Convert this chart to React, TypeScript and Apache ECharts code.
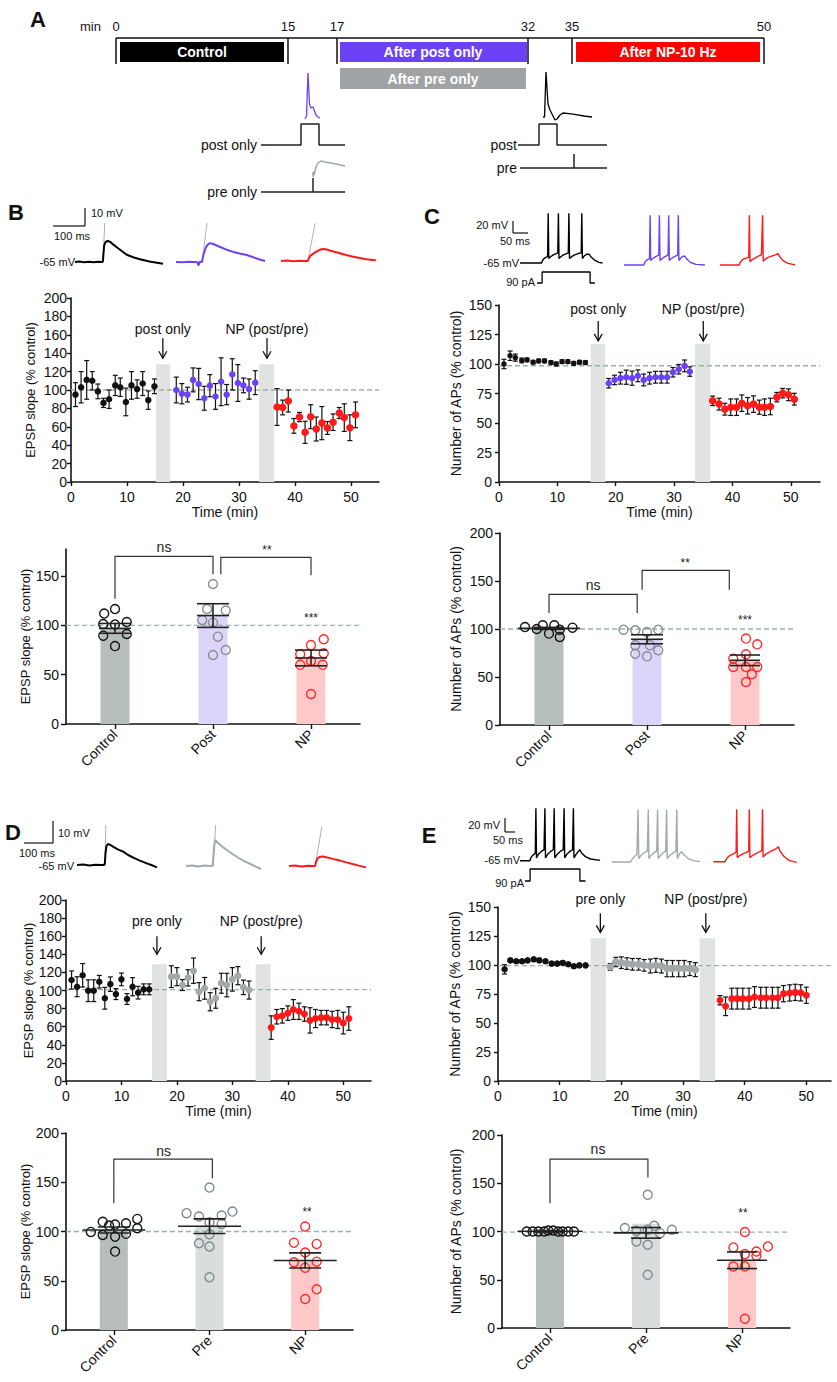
import React, { useEffect, useRef } from "react";
import * as echarts from "echarts";

const FONT = '"Liberation Sans", Arial, Helvetica, sans-serif';
const NARROW = '"Liberation Sans Narrow", "Arial Narrow", "Liberation Sans", Arial, sans-serif';
const INK = "#111111";
const PURPLE = "#6b42f5";
const RED = "#ff1a1a";
const GRAYPT = "#a3a8aa";
const SHADE = "#e1e3e3";
const DASH = "#9cb0b0";
const ARTIFACT = "#a9b3b5";

// ---------------- Panel A (protocol schematic) ----------------
const aTimeLabels = ["0", "15", "17", "32", "35", "50"];
const aPhaseLabels = ["Control", "After post only", "After pre only", "After NP-10 Hz"];
const aStimLabels = ["post only", "pre only", "post", "pre"];
const aPostOnlyCmd = [[0, 0], [40, 0], [40, 1], [58, 1], [58, 0], [84, 0]];
const aPurpleSpike = [[0, 0], [1.5, 3], [3, 46], [4.5, 15], [6, 11], [8, 12], [9.5, 8], [11, 4], [13, 2], [15, 1]];
const aPreOnlyCmd = [[0, 0], [52, 0], [52, 1], [52, 0], [84, 0]];
const aGrayEpsp = [[0, 0], [0, 5], [1, 2], [3, 10], [5, 14], [8, 16], [12, 15], [18, 14], [25, 12.5], [32, 11]];
const aPostCmd = [[0, 0], [21, 0], [21, 1], [39, 1], [39, 0], [89, 0]];
const aBlackSpike = [[0, 3], [1.5, 3], [3, 48], [5, 16], [7, 10], [9, 6], [12, 0], [14, 1], [17, 5], [20, 7], [26, 6.3], [33, 5.3], [41, 4], [49, 3]];
const aPreCmd = [[0, 0], [54, 0], [54, 1], [54, 0], [87, 0]];

// ---------------- Example traces (ms, mV) ----------------
const bTraceBlack = [[0, 0], [15, 0.3], [30, -0.2], [45, 0.2], [60, -0.1], [75, 0.2], [88, 0], [90, 0.3], [92, 5], [94, 9], [97, 10.6], [101, 11.4], [106, 11.7], [115, 11], [125, 9.5], [140, 7.5], [167, 4], [190, 2.5], [210, 1.5], [240, 0.3], [284, -1]];
const bTracePurple = [[0, 0], [20, -0.2], [40, 0.2], [60, 0], [70, -0.2], [72, -2], [76, 0], [84, 0], [86, 2], [90, 5], [96, 8], [103, 9.8], [110, 10.5], [120, 10], [135, 8.9], [150, 7.8], [165, 6.7], [185, 5.6], [205, 4.7], [228, 3.9], [250, 2.6], [270, 1.4], [287, 0.6]];
const bTraceRed = [[0, 0], [20, 0.3], [40, -0.2], [60, 0.2], [80, 0], [86, 0], [90, 1.5], [95, 3], [102, 3.8], [110, 4.8], [120, 5.8], [128, 6.4], [135, 6.7], [145, 6.5], [160, 5.7], [175, 5], [190, 4.3], [210, 3.3], [230, 2.5], [250, 1.8], [275, 1], [306, 0.4]];
const bArtBlack = [[90, 0], [96, 21.7]];
const bArtPurple = [[84, 0], [100, 21.7]];
const bArtRed = [[87, 0], [110, 21]];

const dTraceBlack = [[0, 0], [20, 0.2], [40, -0.2], [60, 0.1], [80, 0], [88, 0], [90, 1], [92, 6], [95, 9.5], [100, 10.5], [108, 10], [120, 8.8], [135, 7.6], [149, 6.7], [165, 5], [185, 3.4], [203, 2.2], [225, 0.8], [240, 0], [258, -1.2]];
const dTraceGray = [[0, 0], [20, 0.2], [40, -0.2], [60, 0.2], [80, 0], [86, 0], [88, 4], [91, 10], [94, 13], [100, 12], [110, 10.6], [120, 9.3], [132, 8], [150, 6], [170, 4], [185, 2.7], [205, 1.2], [225, -0.3], [242, -1.5]];
const dTraceRed = [[0, 0], [20, 0.2], [40, -0.2], [60, 0.1], [78, 0], [84, 0], [88, 2.5], [93, 4], [100, 4.6], [110, 4.7], [120, 4.4], [135, 3.8], [150, 3.2], [165, 2.7], [185, 1.8], [205, 1], [225, 0.2], [248, -0.7]];
const dArtBlack = [[90, 0], [93, 20]];
const dArtGray = [[87, 0], [96, 20.5]];
const dArtRed = [[84, 0], [106, 19.5]];

const cTraceBlack = [[0, -65], [72, -65], [75, -61], [80, -58], [86, -56], [92, -55], [94, 14], [96, -58], [102, -55], [111, -52], [121, -50], [126, -49], [128, 14], [130, -58], [136, -55], [145, -52], [155, -50], [161, -49], [163, 14], [165, -58], [172, -55], [182, -52], [194, -50], [204, -49], [206, 14], [208, -58], [214, -54], [222, -51], [230, -51], [238, -56], [250, -61], [263, -64], [275, -65]];
const cTracePurple = [[0, -65], [66, -65], [69, -61], [74, -58], [80, -56], [85, -55], [87, 14], [89, -58], [95, -55], [104, -52], [112, -50], [116, -49], [118, 14], [120, -58], [126, -55], [135, -52], [143, -50], [147, -49], [149, 14], [151, -58], [157, -55], [166, -52], [175, -50], [179, -49], [181, 14], [183, -58], [189, -54], [196, -51], [203, -51], [210, -56], [222, -61], [240, -64], [270, -65]];
const cTraceRed = [[0, -65], [64, -65], [67, -61], [72, -58], [80, -55], [88, -54], [96, -53], [98, 14], [100, -60], [106, -57], [116, -54], [128, -51], [138, -49], [142, 14], [144, -59], [150, -56], [160, -53], [172, -51], [184, -49], [194, -47], [199, -52], [210, -58], [225, -62], [250, -65]];
const cCurrent = [[0, 0], [17, 0], [17, 90], [177, 90], [177, 0], [193, 0]];

const eTraceBlack = [[0, -65], [33, -65], [37, -60], [45, -56], [51, -54], [53, 12], [55, -61], [62, -55], [72, -51], [80, -49], [83, 12], [85, -61], [93, -55], [103, -51], [111, -49], [114, 12], [116, -61], [125, -55], [135, -51], [144, -49], [147, 12], [149, -61], [157, -55], [167, -51], [175, -49], [178, 12], [180, -61], [188, -55], [197, -50], [200, -49], [206, -54], [218, -59], [235, -62.5], [267, -64.5]];
const eTraceGray = [[0, -65], [63, -65], [68, -61], [76, -57], [84, -54], [88, 12], [90, -60], [98, -55], [110, -51], [119, -49], [122, 12], [124, -60], [132, -55], [142, -51], [150, -49], [153, 12], [155, -60], [163, -55], [173, -51], [180, -49], [183, 12], [185, -60], [195, -55], [207, -51], [214, -49], [217, 12], [219, -60], [226, -53], [233, -50], [240, -54], [255, -60], [272, -63], [294, -64.5]];
const eTraceRed = [[0, -65], [39, -65], [45, -60], [55, -56], [68, -53], [76, -51], [78, 12], [80, -59], [88, -56], [100, -53], [112, -51], [118, -49], [120, 12], [122, -59], [130, -56], [142, -53], [155, -50], [162, -49], [164, 12], [166, -58], [175, -54], [190, -50], [205, -47], [215, -44], [217, -43], [222, -49], [235, -57], [252, -63], [278, -66]];
const eCurrent = [[0, 0], [17, 0], [17, 90], [183, 90], [183, 0], [202, 0]];

// ---------------- Time courses ----------------
const timeTicks = [0, 10, 20, 30, 40, 50];

const bCtrlT = [0.8, 1.8, 2.8, 3.8, 4.8, 5.8, 6.8, 7.9, 8.8, 9.8, 10.8, 11.8, 12.8, 13.8, 14.9];
const bCtrlV = [95, 103, 111, 110, 98.5, 86, 90, 105, 103, 87, 105, 101, 107, 89, 104];
const bCtrlE = [13, 17, 21, 10, 8, 5, 10, 11, 10, 15, 15, 10, 13, 10, 8];
const bPostT = [18.8, 19.8, 20.8, 21.8, 22.8, 23.8, 24.8, 25.8, 26.8, 27.8, 28.8, 29.8, 30.8, 31.8, 32.9];
const bPostV = [100, 96, 95, 111, 106.5, 91, 104.7, 93, 109, 95, 117, 107.6, 105, 101, 108];
const bPostE = [14, 11, 8, 13, 17, 13, 12, 14, 26, 11, 17, 20, 8, 11, 13];
const bNpT = [36.8, 37.8, 38.8, 39.8, 40.8, 41.8, 42.8, 43.8, 44.8, 45.8, 46.8, 47.9, 48.8, 49.8, 50.8];
const bNpV = [81.5, 81, 88, 61, 70.6, 54, 71, 57.6, 64, 58.7, 65, 75, 70, 59, 73];
const bNpE = [20, 8, 12, 8, 5, 12, 13, 13, 18, 7, 9, 6, 15, 14, 14];

const cCtrlT = [0.85, 1.9, 2.8, 3.9, 4.8, 5.85, 6.8, 7.8, 8.9, 9.8, 10.8, 11.8, 12.8, 13.8, 14.8];
const cCtrlV = [100, 107, 105.4, 103, 103.5, 101.5, 102.6, 102.6, 101.2, 100, 102, 102, 100.6, 101.5, 101.2];
const cCtrlE = [4, 4, 3, 2, 1.5, 1.5, 1.5, 1.5, 1.5, 1.5, 1.5, 1.5, 1.5, 1.5, 1.5];
const cPostT = [18.8, 19.8, 20.8, 21.8, 22.8, 23.8, 24.8, 25.8, 26.8, 27.8, 28.8, 29.8, 30.8, 31.8, 32.7];
const cPostV = [83.7, 86.5, 88, 88.8, 88, 90, 86.5, 88, 88.8, 88.8, 88.8, 93, 95.6, 98.4, 93.6];
const cPostE = [4, 4, 5, 6, 6, 5, 5, 5, 5, 5, 5, 4, 4, 5, 4];
const cNpT = [36.6, 37.7, 38.7, 39.7, 40.7, 41.6, 42.6, 43.6, 44.6, 45.5, 46.5, 47.6, 48.6, 49.6, 50.6];
const cNpV = [68.8, 66, 61.7, 63.4, 63.4, 66.8, 64.6, 66, 63.4, 63.4, 64, 71.9, 75.3, 73.9, 70.2];
const cNpE = [4, 5, 5, 7, 7, 7, 7, 7, 6, 7, 7, 4, 4, 5, 5];

const dCtrlT = [1, 2, 3, 4, 5, 6, 7, 8, 9, 10, 11, 12, 13, 14, 15];
const dCtrlV = [111.6, 104.2, 116.8, 99.8, 99.8, 109.7, 91.4, 107, 96, 112.3, 90.6, 104.2, 97.6, 101.3, 101.3];
const dCtrlE = [10, 11, 13, 12, 12, 7, 12, 8, 6, 7, 6, 10, 7, 6, 6];
const dPreT = [19, 20, 21, 22, 23, 24, 25, 26, 27, 28, 29, 30, 31, 32, 33];
const dPreV = [115.3, 115.3, 106, 114, 121.9, 98.7, 102.4, 87.6, 91.4, 108, 106, 112.3, 116.4, 103.5, 100.5];
const dPreE = [12, 10, 6, 9, 14, 10, 12, 10, 11, 11, 13, 13, 10, 8, 10];
const dNpT = [37, 38, 39, 40, 41, 42, 43, 44, 45, 46, 47, 48, 49, 50, 51];
const dNpV = [59, 71, 72, 75, 79, 77, 74, 67, 69, 70, 70, 68, 68, 64, 69];
const dNpE = [13, 8, 8, 8, 11, 9, 8, 14, 10, 8, 8, 9, 10, 12, 13];

const eCtrlT = [1.07, 2.0, 2.95, 3.9, 4.8, 5.8, 6.7, 7.7, 8.7, 9.6, 10.5, 11.4, 12.3, 13.2, 14.2];
const eCtrlV = [96.3, 104, 103.2, 103.2, 104, 104.9, 104, 103.2, 101.2, 101.2, 101.8, 100.6, 98.9, 99.7, 99.7];
const eCtrlE = [4, 1.5, 1.5, 1.5, 1.5, 1.5, 1.5, 1.5, 1.5, 1.5, 1.5, 1.5, 1.5, 1.5, 1.5];
const ePreT = [18.2, 19.1, 20.0, 20.9, 21.8, 22.8, 23.7, 24.7, 25.6, 26.5, 27.4, 28.3, 29.3, 30.2, 31.1, 32.0];
const ePreV = [98.3, 102.6, 102, 101.2, 100.6, 100.6, 99.7, 99.1, 99.7, 99.1, 96.9, 96.9, 96.9, 96.9, 96.9, 96];
const ePreE = [3, 4, 5, 5, 5, 5, 5, 6, 6, 6, 7, 7, 7, 7, 6, 6];
const eNpT = [36.0, 36.9, 37.9, 38.8, 39.7, 40.7, 41.6, 42.6, 43.5, 44.5, 45.4, 46.3, 47.3, 48.2, 49.1, 50.0];
const eNpV = [69.6, 64.4, 71, 71, 71, 71, 72.4, 71.8, 71.8, 71.8, 71.8, 75.3, 75.9, 76.4, 76, 73.9];
const eNpE = [4, 8, 9, 9, 9, 9, 9, 9, 9, 9, 9, 7, 7, 7, 7, 7];

// stimulation windows (min) and event labels
const bStim = [[15.2, 17.7], [33.6, 36.3]];
const cStim = [[15.7, 18.2], [33.6, 36.2]];
const dStim = [[15.5, 18.2], [34.2, 36.9]];
const eStim = [[15.0, 17.5], [32.7, 35.2]];
const bEventT = [16.4, 35.0];
const cEventT = [17.0, 35.0];
const dEventT = [16.4, 35.2];
const eEventT = [16.6, 33.7];
const bcEventLabels = ["post only", "NP (post/pre)"];
const deEventLabels = ["pre only", "NP (post/pre)"];

// ---------------- Summary bars ----------------
const catsPost = ["Control", "Post", "NP"];
const catsPre = ["Control", "Pre", "NP"];

const bBarMean = [97, 110, 67];
const bBarSem = [5, 12, 8];
const bDotsCtrl = [[-0.11, 112], [0, 116.6], [0.12, 103.4], [-0.12, 101.4], [0, 101], [-0.12, 89.6], [0.12, 91.3], [0, 79]];
const bDotsPost = [[0, 142], [-0.06, 116.6], [0.13, 115], [-0.11, 105.5], [0, 102.8], [0.05, 88.6], [0, 70], [0.13, 75]];
const bDotsNp = [[0.13, 85.9], [0, 80], [-0.11, 70.7], [0.13, 71.7], [0, 63.9], [-0.11, 60], [0.12, 60], [0, 30.4]];
const bBrackets = [[0, 1, 170, 127, 152], [1.08, 2, 169, 152, 151]];
const bSigText = ["ns", "**", "***"];
const bSigAt = [[0.5, 180], [1.55, 176.5], [2, 107.5]];

const cBarMean = [100.7, 89.3, 67.4];
const cBarSem = [1, 4.7, 5.5];
const cDotsCtrl = [[-0.245, 102], [-0.125, 100], [-0.064, 103.8], [0, 95.2], [0.054, 103.8], [0.11, 91.7], [0.11, 99.3], [0.24, 101.4]];
const cDotsPost = [[-0.24, 99.3], [-0.12, 98.6], [0, 96.9], [0.115, 99.3], [-0.12, 83], [0.03, 83], [-0.12, 74.3], [0.115, 77.8], [0, 71.5]];
const cDotsNp = [[0.01, 90], [0.125, 84], [-0.12, 69], [0.01, 73.6], [0.01, 60.4], [-0.12, 60.4], [0.125, 60.4], [0.07, 52.8], [0.01, 44.8]];
const cBrackets = [[0, 0.9, 136, 116.7, 116.7], [0.95, 1.84, 161, 141, 141]];
const cSigText = ["ns", "**", "***"];
const cSigAt = [[0.45, 146], [1.39, 168.7], [2, 109.8]];

const dBarMean = [101.5, 105.4, 70.6];
const dBarSem = [3, 7.4, 7.7];
const dDotsCtrl = [[-0.24, 99.6], [-0.116, 109.8], [-0.05, 106], [0.013, 107], [0.127, 108.4], [0.245, 112.8], [0.245, 103.3], [-0.116, 96.5], [0.013, 94.8], [0.127, 97.6], [0.013, 79.6]];
const dDotsPre = [[0, 144.6], [-0.24, 118.6], [-0.11, 115.2], [0.127, 116.2], [0.24, 120.2], [0, 109.4], [0.127, 107.7], [-0.11, 88.1], [0, 97.2], [0, 84.7], [0, 53.5]];
const dDotsNp = [[0, 105], [-0.117, 88.7], [0.12, 87.4], [0, 78.6], [-0.117, 68.8], [0.12, 69.4], [0, 63.3], [0.12, 41.3], [0, 31.5]];
const dBrackets = [[0, 1.03, 173.5, 128.8, 154]];
const dSigText = ["ns", "**"];
const dSigAt = [[0.52, 182], [2.02, 119.6]];

const eBarVal = [100, 108, 70];
const eBarMean = [100.2, 98.6, 70.2];
const eBarSem = [0.8, 5.5, 8.6];
const eDotsCtrl = [[-0.243, 100], [-0.18, 100], [-0.122, 100], [-0.06, 100], [-0.018, 101], [0.034, 101], [0.086, 100], [0.132, 100], [0.19, 100], [0.25, 100]];
const eDotsPre = [[0.018, 138], [-0.22, 103.5], [-0.1, 100.7], [0.018, 101.7], [0.086, 105.9], [0.146, 98.3], [0.27, 101.7], [-0.1, 89.7], [0.018, 86.2], [0.018, 55.2]];
const eDotsNp = [[0.03, 99.4], [-0.09, 83.5], [0.27, 84.5], [0.15, 79.3], [0.03, 76.6], [0.15, 74.9], [-0.09, 63.8], [0.03, 63.8], [0.03, 9.6]];
const eBrackets = [[0, 1.02, 175, 129.4, 156]];
const eSigText = ["ns", "**"];
const eSigAt = [[0.5, 185], [2.01, 119]];

// ---------------- renderers ----------------
function txtStyle(text: string, font: string, fill: string, align = "center", valign = "middle") {
  return { text, font, fill, textAlign: align, textVerticalAlign: valign, align, verticalAlign: valign };
}

function errBarRender(capW: number, color: string) {
  return (params: any, api: any) => {
    const x = api.value(0), y = api.value(1), e = api.value(2);
    const a = api.coord([x, y + e]), b = api.coord([x, y - e]);
    const st = { stroke: color, lineWidth: 1.2 };
    return {
      type: "group",
      children: [
        { type: "line", shape: { x1: a[0], y1: a[1], x2: b[0], y2: b[1] }, style: st },
        { type: "line", shape: { x1: a[0] - capW / 2, y1: a[1], x2: a[0] + capW / 2, y2: a[1] }, style: st },
        { type: "line", shape: { x1: b[0] - capW / 2, y1: b[1], x2: b[0] + capW / 2, y2: b[1] }, style: st },
      ],
    };
  };
}

function meanSemRender(meanW: number[], capW: number[], color: string) {
  return (params: any, api: any) => {
    const i = params.dataIndex;
    const x = api.value(0), m = api.value(1), s = api.value(2);
    const pm = api.coord([x, m]), pt = api.coord([x, m + s]), pb = api.coord([x, m - s]);
    const st = { stroke: color, lineWidth: 1.6 };
    return {
      type: "group",
      children: [
        { type: "line", shape: { x1: pt[0], y1: pt[1], x2: pb[0], y2: pb[1] }, style: st },
        { type: "line", shape: { x1: pm[0] - meanW[i] / 2, y1: pm[1], x2: pm[0] + meanW[i] / 2, y2: pm[1] }, style: st },
        { type: "line", shape: { x1: pt[0] - capW[i] / 2, y1: pt[1], x2: pt[0] + capW[i] / 2, y2: pt[1] }, style: st },
        { type: "line", shape: { x1: pb[0] - capW[i] / 2, y1: pb[1], x2: pb[0] + capW[i] / 2, y2: pb[1] }, style: st },
      ],
    };
  };
}

function bracketRender(rows: number[][], color: string) {
  return (params: any, api: any) => {
    const r = rows[params.dataIndex];
    const pts = [api.coord([r[0], r[3]]), api.coord([r[0], r[2]]), api.coord([r[1], r[2]]), api.coord([r[1], r[4]])];
    return { type: "polyline", shape: { points: pts }, style: { stroke: color, lineWidth: 1.2, fill: null } };
  };
}

function eventRender(labels: string[], top: number, off: number[]) {
  return (params: any, api: any) => {
    const p = api.coord([api.value(0), top]);
    const x = p[0];
    const yb = p[1] - off[0], yt = p[1] - off[1], ytx = p[1] - off[2];
    const st = { stroke: INK, lineWidth: 1.3, fill: null };
    return {
      type: "group",
      children: [
        { type: "line", shape: { x1: x, y1: yt, x2: x, y2: yb }, style: st },
        { type: "polyline", shape: { points: [[x - 4, yb - 7], [x, yb], [x + 4, yb - 7]] }, style: st },
        { type: "text", x, y: ytx, style: txtStyle(labels[params.dataIndex], "14px " + FONT, INK) },
      ],
    };
  };
}

function shadeRender(top: number) {
  return (params: any, api: any) => {
    const a = api.coord([api.value(0), top]);
    const b = api.coord([api.value(1), 0]);
    return { type: "rect", shape: { x: a[0], y: a[1], width: b[0] - a[0], height: b[1] - a[1] }, style: { fill: SHADE } };
  };
}

function refRender() {
  return (params: any, api: any) => {
    const cs = params.coordSys;
    const y = api.coord([api.value(0), api.value(1)])[1];
    return { type: "line", shape: { x1: cs.x, y1: y, x2: cs.x + cs.width, y2: y }, style: { stroke: DASH, lineWidth: 1.3, lineDash: [5, 3] } };
  };
}

// ---------------- builders ----------------
const axisLine = { show: true, onZero: false, lineStyle: { color: INK, width: 1.6 } };
const tickStyle = { show: true, length: 4, lineStyle: { color: INK, width: 1.4 } };

function addTraceGrid(o: any, left: number, baseY: number, pxX: number, pxY: number, tMax: number, vMin: number, vMax: number, vBase: number) {
  const gi = o.grid.length;
  o.grid.push({ left, top: baseY - (vMax - vBase) * pxY, width: tMax * pxX, height: (vMax - vMin) * pxY, outerBoundsMode: "none", containLabel: false });
  o.xAxis.push({ type: "value", gridIndex: gi, min: 0, max: tMax, show: false, axisLine: { onZero: false } });
  o.yAxis.push({ type: "value", gridIndex: gi, min: vMin, max: vMax, show: false, axisLine: { onZero: false } });
  return { xi: o.xAxis.length - 1, yi: o.yAxis.length - 1 };
}

function addLine(o: any, ax: any, data: number[][], color: string, width: number) {
  o.series.push({
    type: "line", xAxisIndex: ax.xi, yAxisIndex: ax.yi, data, showSymbol: false, symbol: "none",
    lineStyle: { color, width }, clip: false, silent: true, z: 5,
  });
}

function addTimeCourse(o: any, cfg: any) {
  const gi = o.grid.length;
  o.grid.push({ ...cfg.box, outerBoundsMode: "none", containLabel: false });
  o.xAxis.push({
    type: "value", gridIndex: gi, min: 0, max: cfg.xMax, interval: 10,
    axisLine, axisTick: { ...tickStyle, customValues: timeTicks },
    axisLabel: { customValues: timeTicks, fontSize: 14, color: INK, margin: 8, fontFamily: FONT },
    splitLine: { show: false },
    name: "Time (min)", nameLocation: "middle", nameGap: 23,
    nameTextStyle: { fontSize: 14, color: INK, fontFamily: FONT },
  });
  const xi = o.xAxis.length - 1;
  o.yAxis.push({
    type: "value", gridIndex: gi, min: 0, max: cfg.yMax, interval: cfg.yInt,
    axisLine, axisTick: tickStyle,
    axisLabel: { fontSize: 14, color: INK, margin: cfg.labelMargin, fontFamily: FONT },
    splitLine: { show: false },
    name: cfg.yName, nameLocation: "middle", nameGap: cfg.nameGap,
    nameTextStyle: { fontSize: cfg.nameSize, color: INK, fontFamily: FONT },
  });
  const yi = o.yAxis.length - 1;
  o.series.push({ type: "custom", xAxisIndex: xi, yAxisIndex: yi, data: cfg.stim, renderItem: shadeRender(cfg.stimTop), z: 1, silent: true });
  o.series.push({ type: "custom", xAxisIndex: xi, yAxisIndex: yi, data: [[0, cfg.ref]], renderItem: refRender(), z: 1, silent: true });
  cfg.groups.forEach((g: any) => {
    o.series.push({
      type: "custom", xAxisIndex: xi, yAxisIndex: yi,
      data: g.t.map((t: number, i: number) => [t, g.v[i], g.e[i]]),
      renderItem: errBarRender(5, INK), z: 2, silent: true,
    });
    o.series.push({
      type: "scatter", xAxisIndex: xi, yAxisIndex: yi,
      data: g.t.map((t: number, i: number) => [t, g.v[i]]),
      symbol: "circle", symbolSize: g.size, itemStyle: { color: g.color, opacity: 1 }, z: 3, silent: true,
    });
  });
  o.series.push({
    type: "custom", xAxisIndex: xi, yAxisIndex: yi,
    data: cfg.eventT.map((t: number) => [t, 0]),
    renderItem: eventRender(cfg.eventLabels, cfg.stimTop, cfg.arrowOff), z: 4, silent: true,
  });
}

function addBarPanel(o: any, cfg: any) {
  const gi = o.grid.length;
  o.grid.push({ ...cfg.box, outerBoundsMode: "none", containLabel: false });
  o.xAxis.push({
    type: "category", gridIndex: gi, data: cfg.cats,
    axisLine, axisTick: { ...tickStyle, length: 5, alignWithLabel: true },
    axisLabel: { rotate: 45, fontSize: 14, color: INK, margin: 8, interval: 0, fontFamily: FONT },
    splitLine: { show: false },
  });
  const xc = o.xAxis.length - 1;
  o.xAxis.push({ type: "value", gridIndex: gi, min: -0.5, max: 2.5, show: false, axisLine: { onZero: false } });
  const xv = o.xAxis.length - 1;
  o.yAxis.push({
    type: "value", gridIndex: gi, min: 0, max: cfg.yMax, interval: 50,
    axisLine, axisTick: { ...tickStyle, length: 5, customValues: cfg.yTicks },
    axisLabel: { customValues: cfg.yTicks, fontSize: 14, color: INK, margin: 7, fontFamily: FONT },
    splitLine: { show: false },
    name: cfg.yName, nameLocation: "middle", nameGap: cfg.nameGap,
    nameTextStyle: { fontSize: cfg.nameSize, color: INK, fontFamily: FONT },
  });
  const yi = o.yAxis.length - 1;
  o.series.push({
    type: "bar", xAxisIndex: xc, yAxisIndex: yi, barWidth: cfg.barWidth,
    data: cfg.barVals.map((v: number, i: number) => ({ value: v, itemStyle: { color: cfg.barColors[i] } })),
    z: 1, silent: true,
  });
  o.series.push({ type: "custom", xAxisIndex: xv, yAxisIndex: yi, data: [[0, cfg.ref]], renderItem: refRender(), z: 2, silent: true });
  cfg.dots.forEach((g: any, k: number) => {
    o.series.push({
      type: "scatter", xAxisIndex: xv, yAxisIndex: yi,
      data: g.pts.map((p: number[]) => [k + p[0], p[1]]),
      symbol: "circle", symbolSize: 9,
      itemStyle: { color: "rgba(255,255,255,0)", borderColor: g.color, borderWidth: 1.4, opacity: 1 },
      z: 3, silent: true,
    });
  });
  o.series.push({
    type: "custom", xAxisIndex: xv, yAxisIndex: yi,
    data: cfg.means.map((m: number, i: number) => [i, m, cfg.sems[i]]),
    renderItem: meanSemRender(cfg.meanW, cfg.capW, "#222222"), z: 4, silent: true,
  });
  o.series.push({
    type: "custom", xAxisIndex: xv, yAxisIndex: yi,
    data: cfg.brackets.map((r: number[]) => [r[0], r[2]]),
    renderItem: bracketRender(cfg.brackets, "#333333"), z: 4, silent: true,
  });
  o.series.push({
    type: "custom", xAxisIndex: xv, yAxisIndex: yi, data: cfg.sigAt,
    renderItem: (params: any, api: any) => {
      const lab = cfg.sigText[params.dataIndex];
      const p = api.coord([api.value(0), api.value(1)]);
      const font = lab === "ns" ? "14px " + FONT : "12px " + FONT;
      return { type: "text", x: p[0], y: p[1], style: txtStyle(lab, font, "#222222") };
    },
    z: 4, silent: true,
  });
}

function gText(x: number, y: number, text: string, font: string, fill = INK, align = "center", valign = "middle") {
  return { type: "text", x, y, style: txtStyle(text, font, fill, align, valign), z: 10, silent: true };
}
function gLine(x1: number, y1: number, x2: number, y2: number, w = 1.5, color = INK) {
  return { type: "line", shape: { x1, y1, x2, y2 }, style: { stroke: color, lineWidth: w }, z: 10, silent: true };
}
function gRect(x: number, y: number, width: number, height: number, fill: string) {
  return { type: "rect", shape: { x, y, width, height }, style: { fill }, z: 9, silent: true };
}

function buildOption() {
  const o: any = { grid: [], xAxis: [], yAxis: [], series: [] };
  const g: any[] = [];

  // ---- Panel letters ----
  const letterFont = "bold 22px " + FONT;
  g.push(gText(38, 19, "A", letterFont));
  g.push(gText(16, 212, "B", letterFont));
  g.push(gText(432, 216, "C", letterFont));
  g.push(gText(13, 832, "D", letterFont));
  g.push(gText(429, 835, "E", letterFont));

  // ---- Panel A timeline ----
  const tickX = [116, 288, 337, 528, 572, 764];
  g.push(gText(80, 26, "min", "13px " + NARROW, INK, "left"));
  aTimeLabels.forEach((t, i) => g.push(gText(tickX[i], 26, t, "13px " + NARROW)));
  g.push(gLine(116, 38, 764, 38, 1.5));
  tickX.forEach((x) => g.push(gLine(x, 38, x, 64, 1.5)));
  g.push(gRect(120, 42, 164, 20, "#000000"));
  g.push(gRect(340, 42, 187, 20, PURPLE));
  g.push(gRect(340, 68, 186, 21, "#9fa3a5"));
  g.push(gRect(576, 42, 184, 20, "#ff0000"));
  const phaseBold = "bold 14px " + NARROW;
  g.push(gText(202, 52, aPhaseLabels[0], phaseBold, "#ffffff"));
  g.push(gText(433, 52, aPhaseLabels[1], phaseBold, "#ffffff"));
  g.push(gText(433, 78.5, aPhaseLabels[2], phaseBold, "#ffffff"));
  g.push(gText(668, 52, aPhaseLabels[3], phaseBold, "#ffffff"));
  g.push(gText(257, 145, aStimLabels[0], "14px " + NARROW, INK, "right"));
  g.push(gText(257, 192, aStimLabels[1], "14px " + NARROW, INK, "right"));
  g.push(gText(517, 145, aStimLabels[2], "14px " + NARROW, INK, "right"));
  g.push(gText(517, 168, aStimLabels[3], "14px " + NARROW, INK, "right"));

  let ax = addTraceGrid(o, 261, 145, 1, 21, 84, -0.2, 1.2, 0);
  addLine(o, ax, aPostOnlyCmd, "#222", 1.5);
  ax = addTraceGrid(o, 305, 119, 1, 1, 15, -2, 48, 0);
  addLine(o, ax, aPurpleSpike, PURPLE, 1.3);
  ax = addTraceGrid(o, 261, 192, 1, 14, 84, -0.2, 1.2, 0);
  addLine(o, ax, aPreOnlyCmd, "#222", 1.5);
  ax = addTraceGrid(o, 313, 177, 1, 1, 32, -2, 18, 0);
  addLine(o, ax, aGrayEpsp, "#a0a4a6", 1.5);
  ax = addTraceGrid(o, 518, 145, 1, 21, 89, -0.2, 1.2, 0);
  addLine(o, ax, aPostCmd, "#222", 1.5);
  ax = addTraceGrid(o, 543, 120, 1, 1, 50, -3, 50, 0);
  addLine(o, ax, aBlackSpike, "#000", 1.3);
  ax = addTraceGrid(o, 520, 168, 1, 14, 87, -0.2, 1.2, 0);
  addLine(o, ax, aPreCmd, "#222", 1.5);

  // ---- Panel B traces ----
  const sFont = "11px " + FONT;
  g.push(gLine(85, 208, 85, 226, 1.2));
  g.push(gLine(53, 226, 85, 226, 1.2));
  g.push(gText(91, 213, "10 mV", sFont, INK, "left"));
  g.push(gText(54, 236, "100 ms", sFont, INK, "left"));
  g.push(gText(75, 262, "-65 mV", sFont, INK, "right"));
  ax = addTraceGrid(o, 75, 262, 0.31, 1.8, 284, -5, 25, 0);
  addLine(o, ax, bArtBlack, ARTIFACT, 1);
  addLine(o, ax, bTraceBlack, "#000", 2);
  ax = addTraceGrid(o, 176, 262, 0.31, 1.8, 287, -5, 25, 0);
  addLine(o, ax, bArtPurple, ARTIFACT, 1);
  addLine(o, ax, bTracePurple, PURPLE, 2);
  ax = addTraceGrid(o, 281, 261, 0.31, 1.8, 306, -5, 25, 0);
  addLine(o, ax, bArtRed, ARTIFACT, 1);
  addLine(o, ax, bTraceRed, RED, 2);

  // ---- Panel C traces ----
  g.push(gLine(513, 221, 513, 233, 1.2));
  g.push(gLine(513, 233, 528, 233, 1.2));
  g.push(gText(508, 225, "20 mV", sFont, INK, "right"));
  g.push(gText(500, 241, "50 ms", sFont, INK, "left"));
  g.push(gText(519, 263, "-65 mV", sFont, INK, "right"));
  g.push(gText(535, 282, "90 pA", sFont, INK, "right"));
  ax = addTraceGrid(o, 520, 263, 0.3, 0.63, 275, -75, 20, -65);
  addLine(o, ax, cTraceBlack, "#000", 1.4);
  ax = addTraceGrid(o, 537, 283, 0.3, 11 / 90, 193, -10, 100, 0);
  addLine(o, ax, cCurrent, "#000", 1.3);
  ax = addTraceGrid(o, 624, 265, 0.3, 0.63, 270, -75, 20, -65);
  addLine(o, ax, cTracePurple, PURPLE, 1.4);
  ax = addTraceGrid(o, 720, 265, 0.3, 0.63, 250, -75, 20, -65);
  addLine(o, ax, cTraceRed, RED, 1.4);

  // ---- Panel D traces ----
  g.push(gLine(53, 821, 53, 843, 1.2));
  g.push(gLine(24, 843, 53, 843, 1.2));
  g.push(gText(58, 833, "10 mV", sFont, INK, "left"));
  g.push(gText(55, 853, "100 ms", sFont, INK, "right"));
  g.push(gText(74, 866, "-65 mV", sFont, INK, "right"));
  ax = addTraceGrid(o, 77, 865, 0.31, 2.0, 258, -5, 25, 0);
  addLine(o, ax, dArtBlack, ARTIFACT, 1);
  addLine(o, ax, dTraceBlack, "#000", 2);
  ax = addTraceGrid(o, 186, 866, 0.31, 2.0, 242, -5, 25, 0);
  addLine(o, ax, dArtGray, ARTIFACT, 1);
  addLine(o, ax, dTraceGray, "#a4a9ab", 2);
  ax = addTraceGrid(o, 289, 866, 0.31, 2.0, 248, -5, 25, 0);
  addLine(o, ax, dArtRed, ARTIFACT, 1);
  addLine(o, ax, dTraceRed, RED, 2);

  // ---- Panel E traces ----
  g.push(gLine(505, 818, 505, 832, 1.2));
  g.push(gLine(505, 832, 515, 832, 1.2));
  g.push(gText(500, 825, "20 mV", sFont, INK, "right"));
  g.push(gText(493, 840, "50 ms", sFont, INK, "left"));
  g.push(gText(520, 860, "-65 mV", sFont, INK, "right"));
  g.push(gText(524, 883, "90 pA", sFont, INK, "right"));
  ax = addTraceGrid(o, 520, 860.7, 0.3, 0.68, 267, -75, 20, -65);
  addLine(o, ax, eTraceBlack, "#000", 1.4);
  ax = addTraceGrid(o, 525, 881, 0.3, 12 / 90, 202, -10, 100, 0);
  addLine(o, ax, eCurrent, "#000", 1.3);
  ax = addTraceGrid(o, 611.7, 862, 0.3, 0.68, 294, -75, 20, -65);
  addLine(o, ax, eTraceGray, "#a4a9ab", 1.4);
  ax = addTraceGrid(o, 713.3, 861.7, 0.3, 0.68, 278, -75, 20, -65);
  addLine(o, ax, eTraceRed, RED, 1.4);

  // ---- Time courses ----
  addTimeCourse(o, {
    box: { left: 71, top: 298, width: 308, height: 184 }, xMax: 55, yMax: 200, yInt: 20,
    yName: "EPSP slope (% control)", nameGap: 34, nameSize: 13, labelMargin: 4, ref: 100,
    stim: bStim, stimTop: 128, eventT: bEventT, eventLabels: bcEventLabels, arrowOff: [6, 26, 35],
    groups: [
      { t: bCtrlT, v: bCtrlV, e: bCtrlE, color: INK, size: 6.5 },
      { t: bPostT, v: bPostV, e: bPostE, color: PURPLE, size: 6.5 },
      { t: bNpT, v: bNpV, e: bNpE, color: RED, size: 7.5 },
    ],
  });
  addTimeCourse(o, {
    box: { left: 499, top: 305, width: 321, height: 177 }, xMax: 55, yMax: 150, yInt: 25,
    yName: "Number of APs (% control)", nameGap: 36, nameSize: 14, labelMargin: 7, ref: 98.5,
    stim: cStim, stimTop: 117, eventT: cEventT, eventLabels: bcEventLabels, arrowOff: [3, 23, 35],
    groups: [
      { t: cCtrlT, v: cCtrlV, e: cCtrlE, color: INK, size: 5.5 },
      { t: cPostT, v: cPostV, e: cPostE, color: PURPLE, size: 6.5 },
      { t: cNpT, v: cNpV, e: cNpE, color: RED, size: 7.5 },
    ],
  });
  addTimeCourse(o, {
    box: { left: 66, top: 900, width: 305, height: 181 }, xMax: 55, yMax: 200, yInt: 20,
    yName: "EPSP slope (% control)", nameGap: 29, nameSize: 13, labelMargin: 4, ref: 101,
    stim: dStim, stimTop: 129, eventT: dEventT, eventLabels: deEventLabels, arrowOff: [10, 28, 43],
    groups: [
      { t: dCtrlT, v: dCtrlV, e: dCtrlE, color: INK, size: 6.5 },
      { t: dPreT, v: dPreV, e: dPreE, color: GRAYPT, size: 7 },
      { t: dNpT, v: dNpV, e: dNpE, color: RED, size: 7 },
    ],
  });
  addTimeCourse(o, {
    box: { left: 498, top: 907, width: 333, height: 174 }, xMax: 54, yMax: 150, yInt: 25,
    yName: "Number of APs (% control)", nameGap: 36, nameSize: 14, labelMargin: 7, ref: 99.5,
    stim: eStim, stimTop: 123, eventT: eEventT, eventLabels: deEventLabels, arrowOff: [6, 25, 39],
    groups: [
      { t: eCtrlT, v: eCtrlV, e: eCtrlE, color: INK, size: 6.5 },
      { t: ePreT, v: ePreV, e: ePreE, color: GRAYPT, size: 7.5 },
      { t: eNpT, v: eNpV, e: eNpE, color: RED, size: 7 },
    ],
  });

  // ---- Summary bars ----
  const ctrlBar = "#b6bebc", postBar = "#ddd4fa", preBar = "#d9dddd", npBar = "#ffc9c9";
  const ctrlDot = "#111111", postDot = "#878d90", preDot = "#7f8a8c", npDot = "#ff2a2a";
  addBarPanel(o, {
    box: { left: 66, top: 549, width: 294, height: 175 }, yMax: 177.5, yTicks: [0, 50, 100, 150],
    yName: "EPSP slope (% control)", nameGap: 29, nameSize: 13, cats: catsPost, barWidth: 29,
    barVals: bBarMean, barColors: [ctrlBar, postBar, npBar], means: bBarMean, sems: bBarSem,
    meanW: [32, 32, 32], capW: [32, 32, 32], ref: 100,
    dots: [{ pts: bDotsCtrl, color: ctrlDot }, { pts: bDotsPost, color: postDot }, { pts: bDotsNp, color: npDot }],
    brackets: bBrackets, sigText: bSigText, sigAt: bSigAt,
  });
  addBarPanel(o, {
    box: { left: 500, top: 533, width: 294, height: 192 }, yMax: 200, yTicks: [0, 50, 100, 150, 200],
    yName: "Number of APs (% control)", nameGap: 37, nameSize: 14, cats: catsPost, barWidth: 29,
    barVals: cBarMean, barColors: [ctrlBar, postBar, npBar], means: cBarMean, sems: cBarSem,
    meanW: [62, 32, 30], capW: [30, 32, 30], ref: 100,
    dots: [{ pts: cDotsCtrl, color: ctrlDot }, { pts: cDotsPost, color: postDot }, { pts: cDotsNp, color: npDot }],
    brackets: cBrackets, sigText: cSigText, sigAt: cSigAt,
  });
  addBarPanel(o, {
    box: { left: 66, top: 1133, width: 287, height: 197 }, yMax: 200, yTicks: [0, 50, 100, 150, 200],
    yName: "EPSP slope (% control)", nameGap: 29, nameSize: 13, cats: catsPre, barWidth: 28,
    barVals: dBarMean, barColors: [ctrlBar, preBar, npBar], means: dBarMean, sems: dBarSem,
    meanW: [63, 63, 63], capW: [32, 32, 32], ref: 100,
    dots: [{ pts: dDotsCtrl, color: ctrlDot }, { pts: dDotsPre, color: preDot }, { pts: dDotsNp, color: npDot }],
    brackets: dBrackets, sigText: dSigText, sigAt: dSigAt,
  });
  addBarPanel(o, {
    box: { left: 502, top: 1135, width: 288, height: 193 }, yMax: 200, yTicks: [0, 50, 100, 150, 200],
    yName: "Number of APs (% control)", nameGap: 39, nameSize: 14, cats: catsPre, barWidth: 28,
    barVals: eBarVal, barColors: [ctrlBar, preBar, npBar], means: eBarMean, sems: eBarSem,
    meanW: [65, 65, 50], capW: [30, 30, 30], ref: 99.3,
    dots: [{ pts: eDotsCtrl, color: ctrlDot }, { pts: eDotsPre, color: preDot }, { pts: eDotsNp, color: npDot }],
    brackets: eBrackets, sigText: eSigText, sigAt: eSigAt,
  });

  return {
    animation: false,
    backgroundColor: "#ffffff",
    textStyle: { fontFamily: FONT, color: INK },
    tooltip: { show: false },
    grid: o.grid,
    xAxis: o.xAxis,
    yAxis: o.yAxis,
    series: o.series,
    graphic: { elements: g },
  };
}

export default function App() {
  const ref = useRef<HTMLDivElement>(null);
  useEffect(() => {
    if (!ref.current) return;
    const chart = echarts.init(ref.current, null, { renderer: "svg" });
    chart.setOption(buildOption() as any);
    return () => chart.dispose();
  }, []);
  return (
    <div
      ref={ref}
      style={{ position: "absolute", left: 0, top: 0, width: 837, height: 1382, background: "#ffffff" }}
    />
  );
}
